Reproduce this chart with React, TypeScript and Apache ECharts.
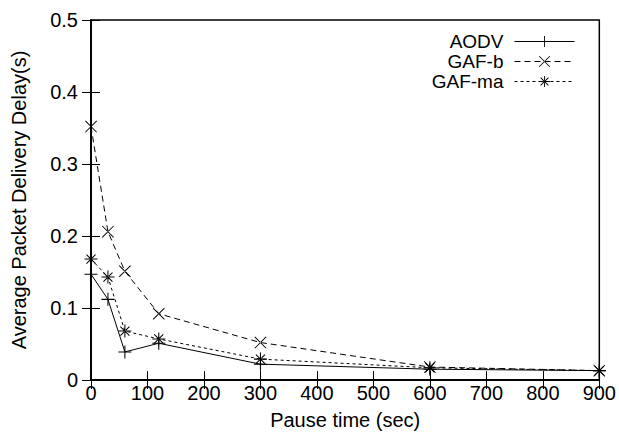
import React, { useEffect, useRef } from "react";
import * as echarts from "echarts";

const pauseTimes = [0, 30, 60, 120, 300, 600, 900];
const aodv = [0.147, 0.112, 0.039, 0.051, 0.022, 0.015, 0.013];
const gafB = [0.352, 0.206, 0.151, 0.092, 0.052, 0.018, 0.013];
const gafMa = [0.168, 0.143, 0.068, 0.057, 0.029, 0.017, 0.013];
const seriesNames = ["AODV", "GAF-b", "GAF-ma"];

const PLUS =
  "path://M-1,-0.08 L1,-0.08 L1,0.08 L-1,0.08 Z M-0.08,-1 L0.08,-1 L0.08,1 L-0.08,1 Z";
const CROSS =
  "path://M-1,-0.89 L-0.89,-1 L1,0.89 L0.89,1 Z M1,-0.89 L0.89,-1 L-1,0.89 L-0.89,1 Z";
const STAR =
  "path://M-1,-0.08 L1,-0.08 L1,0.08 L-1,0.08 Z M-0.08,-1 L0.08,-1 L0.08,1 L-0.08,1 Z M-0.75,-0.64 L-0.64,-0.75 L0.75,0.64 L0.64,0.75 Z M0.75,-0.64 L0.64,-0.75 L-0.75,0.64 L-0.64,0.75 Z";

const FONT = "Liberation Sans";
const FS = 20;

export default function App() {
  const ref = useRef<HTMLDivElement>(null);
  useEffect(() => {
    if (!ref.current) return;
    const chart = echarts.init(ref.current, null, { renderer: "svg" });
    const mk = (vals: number[]) => pauseTimes.map((t, i) => [t, vals[i]]);
    const legendTops = [32, 52, 72];
    chart.setOption({
      animation: false,
      backgroundColor: "#fff",
      textStyle: { fontFamily: FONT },
      grid: {
        left: 91,
        right: 19,
        top: 20,
        bottom: 61,
        show: true,
        borderColor: "#000",
        borderWidth: 1.5,
        backgroundColor: "transparent",
      },
      legend: seriesNames.map((n, i) => ({
        data: [n],
        orient: "vertical",
        align: "right",
        right: 44,
        top: legendTops[i],
        padding: 0,
        itemWidth: 60,
        itemHeight: 14,
        selectedMode: false,
        lineStyle: { width: 1 },
        textStyle: {
          fontFamily: FONT,
          fontSize: 19,
          lineHeight: 18,
          color: "#000",
          padding: [0, 6, 0, 0],
        },
      })),
      xAxis: [
        {
          type: "value",
          position: "bottom",
          min: 0,
          max: 900,
          interval: 100,
          name: "Pause time (sec)",
          nameLocation: "middle",
          nameGap: 30,
          nameTextStyle: { fontFamily: FONT, fontSize: FS, color: "#000" },
          axisLine: { show: true, lineStyle: { color: "#000", width: 1.5 } },
          axisTick: { show: true, inside: true, length: 9, lineStyle: { color: "#000", width: 1 } },
          axisLabel: { margin: 3, fontFamily: FONT, fontSize: FS, color: "#000" },
          splitLine: { show: false },
        },
        {
          type: "value",
          position: "top",
          min: 0,
          max: 900,
          interval: 100,
          axisLine: { show: true, lineStyle: { color: "#000", width: 1.5 } },
          axisTick: { show: true, inside: true, length: 9, lineStyle: { color: "#000", width: 1 } },
          axisLabel: { show: false },
          splitLine: { show: false },
        },
      ],
      yAxis: [
        {
          type: "value",
          position: "left",
          min: 0,
          max: 0.5,
          interval: 0.1,
          name: "Average Packet Delivery Delay(s)",
          nameLocation: "middle",
          nameGap: 62,
          nameTextStyle: { fontFamily: FONT, fontSize: FS, color: "#000" },
          axisLine: { show: true, lineStyle: { color: "#000", width: 1.5 } },
          axisTick: { show: true, inside: true, length: 9, lineStyle: { color: "#000", width: 1 } },
          axisLabel: {
            margin: 13,
            fontFamily: FONT,
            fontSize: FS,
            color: "#000",
            formatter: (v: number) => (v === 0 ? "0" : v.toFixed(1)),
          },
          splitLine: { show: false },
        },
        {
          type: "value",
          position: "right",
          min: 0,
          max: 0.5,
          interval: 0.1,
          axisLine: { show: true, lineStyle: { color: "#000", width: 1.5 } },
          axisTick: { show: true, inside: true, length: 9, lineStyle: { color: "#000", width: 1 } },
          axisLabel: { show: false },
          splitLine: { show: false },
        },
      ],
      series: [
        {
          name: "AODV",
          type: "line",
          data: mk(aodv),
          symbol: PLUS,
          symbolSize: 13,
          lineStyle: { color: "#000", width: 1, type: "solid" },
          itemStyle: { color: "#000", borderWidth: 0 },
        },
        {
          name: "GAF-b",
          type: "line",
          data: mk(gafB),
          symbol: CROSS,
          symbolSize: 12,
          lineStyle: { color: "#000", width: 1, type: [6, 4] },
          itemStyle: { color: "#000", borderWidth: 0 },
        },
        {
          name: "GAF-ma",
          type: "line",
          data: mk(gafMa),
          symbol: STAR,
          symbolSize: 13,
          lineStyle: { color: "#000", width: 1, type: [3, 3] },
          itemStyle: { color: "#000", borderWidth: 0 },
        },
      ],
    });
    return () => chart.dispose();
  }, []);
  return (
    <div
      ref={ref}
      style={{ position: "fixed", left: 0, top: 0, width: 619, height: 441, background: "#fff" }}
    />
  );
}
